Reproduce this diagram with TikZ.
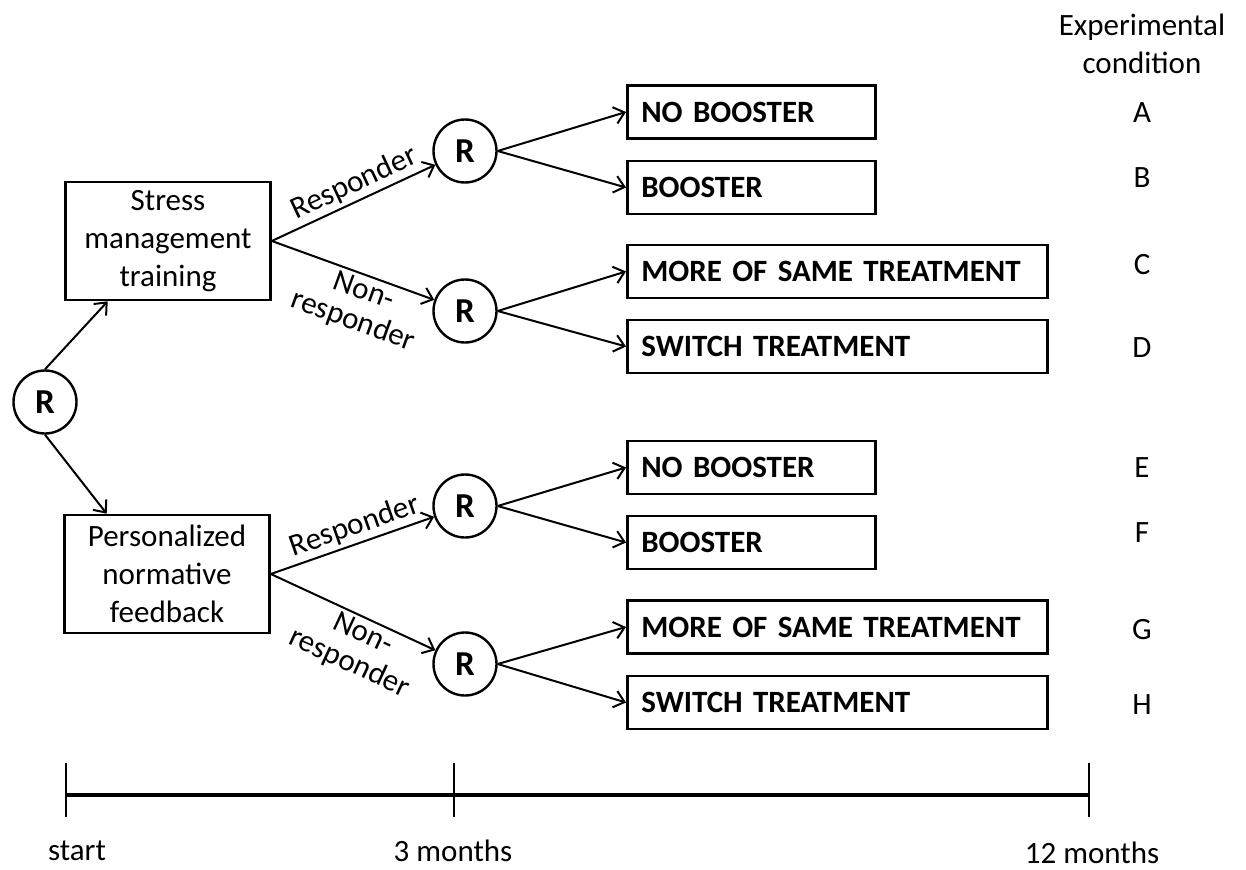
\documentclass[tikz,border=0pt]{standalone}
\usepackage{fontspec}
\setmainfont{Carlito}
\usepackage{tikz}
\usetikzlibrary{arrows.meta,positioning}

\begin{document}
\begin{tikzpicture}[
  x=1pt, y=-1pt,
  fs/.style={font=\fontsize{31}{38}\selectfont},
  tr/.style={draw,line width=2.6pt,minimum width=205pt,minimum height=118pt,align=center,fs},
  rn/.style={draw,circle,line width=2.4pt,minimum size=63pt,inner sep=0pt,font=\fontsize{35}{38}\selectfont\bfseries},
  op/.style={draw,line width=2.6pt,minimum height=53pt,inner xsep=14pt,align=left,anchor=west,font=\fontsize{31}{38}\selectfont\bfseries},
  sh/.style={op,text width=220pt},
  lg/.style={op,text width=392pt},
  lb/.style={fs,inner sep=3pt,sloped},
  nr/.style={lb,below,align=center,font=\fontsize{31}{32}\selectfont},
  tl/.style={fs,inner sep=1pt},
  a/.style={line width=2pt,-{Straight Barb[length=10pt,width=17pt,line width=2pt]}}]
\useasboundingbox (0,0) rectangle (1246,869);
\node[rn] (r0) at (45,402) {R};
\node[tr] (sm) at (168,241) {Stress\\management\\training};
\node[tr] (pn) at (167,574) {Personalized\\normative\\feedback};
\node[rn] (r1) at (465,151) {R};
\node[rn] (r2) at (465,311) {R};
\node[rn] (r3) at (465,506) {R};
\node[rn] (r4) at (465,664) {R};
% second-stage options
\node[sh] (nb1) at (626,112) {NO BOOSTER};
\node[sh] (b1) at (626,187.5) {BOOSTER};
\node[lg] (m1) at (626,271.5) {MORE OF SAME TREATMENT};
\node[lg] (s1) at (626,346.5) {SWITCH TREATMENT};
\node[sh] (nb2) at (626,467.5) {NO BOOSTER};
\node[sh] (b2) at (626,542.5) {BOOSTER};
\node[lg] (m2) at (626,627) {MORE OF SAME TREATMENT};
\node[lg] (s2) at (626,702.5) {SWITCH TREATMENT};
% conditions
\node[fs,align=center] (hd) at (1142,44) {Experimental\\condition};
\node[fs] (cA) at (1142,113) {A};
\node[fs] (cB) at (1142,178) {B};
\node[fs] (cC) at (1142,265) {C};
\node[fs] (cD) at (1142,348) {D};
\node[fs] (cE) at (1142,468) {E};
\node[fs] (cF) at (1142,533) {F};
\node[fs] (cG) at (1142,630) {G};
\node[fs] (cH) at (1142,705) {H};
\draw[a](r0.north)--(sm.225);\draw[a](r0.south)--(pn.135);
\draw[a](sm.east)--node[lb,pos=.55,above]{Responder}(r1);
\draw[a](sm.east)--node[nr,pos=.6]{Non-\\responder}(r2);
\draw[a](pn.east)--node[lb,pos=.55,above]{Responder}(r3);
\draw[a](pn.east)--node[nr,pos=.6]{Non-\\responder}(r4);
\draw[a](r1.east)--(nb1.west);\draw[a](r1.east)--(b1.west);
\draw[a](r2.east)--(m1.west);\draw[a](r2.east)--(s1.west);
\draw[a](r3.east)--(nb2.west);\draw[a](r3.east)--(b2.west);
\draw[a](r4.east)--(m2.west);\draw[a](r4.east)--(s2.west);
% time line
\coordinate (t0) at (66,795); \coordinate (t3) at (454,795); \coordinate (t12) at (1089,795);
\draw[line width=3.2pt] (t0)--(t12);
\foreach \t in {t0,t3,t12} \draw[line width=2pt] ([yshift=32pt]\t)--([yshift=-22pt]\t);
\node[tl] (ls) at (77,851) {start};
\node[tl] (l3) at (453,851) {3 months};
\node[tl] (l12) at (1092,853) {12 months};
\end{tikzpicture}
\end{document}
